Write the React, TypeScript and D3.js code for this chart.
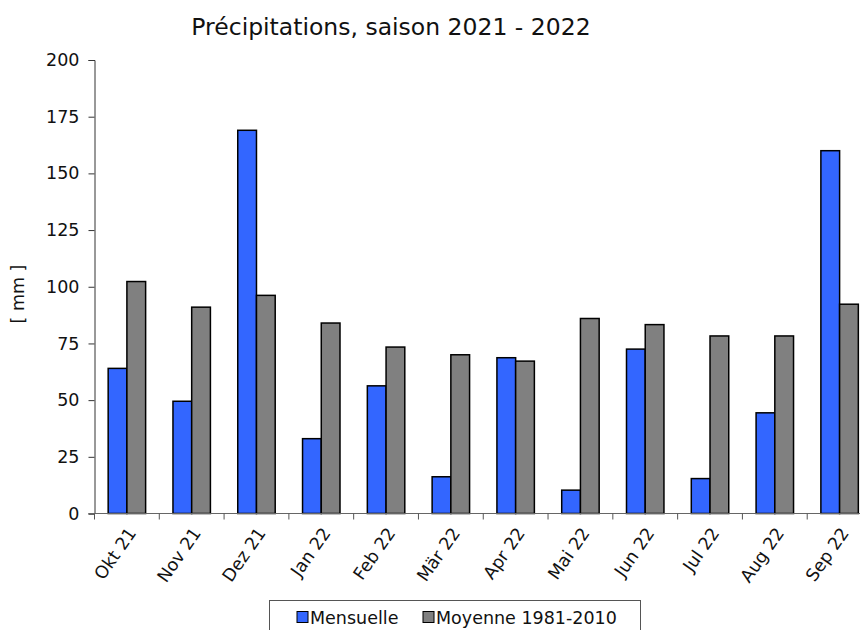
import { useEffect, useRef } from 'react'
import * as d3 from 'd3'

const months = ['Okt 21', 'Nov 21', 'Dez 21', 'Jan 22', 'Feb 22', 'Mär 22', 'Apr 22', 'Mai 22', 'Jun 22', 'Jul 22', 'Aug 22', 'Sep 22']
const monthly = [64, 49.5, 169, 33, 56.3, 16.2, 68.7, 10.3, 72.5, 15.4, 44.4, 160]
const normals = [102.3, 91, 96.2, 84, 73.4, 70, 67.2, 86, 83.3, 78.3, 78.3, 92.3]
const yTicks = [0, 25, 50, 75, 100, 125, 150, 175, 200]
const seriesNames = ['Mensuelle', 'Moyenne 1981-2010']
const seriesColors = ['#3366ff', '#808080']

const FONT = '"DejaVu Sans", Verdana, sans-serif'

export default function App() {
  const svgRef = useRef<SVGSVGElement>(null)

  useEffect(() => {
    if (!svgRef.current) return
    const svg = d3.select(svgRef.current)
    svg.selectAll('*').remove()

    const left = 94.5
    const right = 872
    const top = 60
    const bottom = 513.5

    const x = d3.scaleBand().domain(months).range([left, right]).paddingInner(0).paddingOuter(0)
    // two bars per month, about 18.7px each, centred in the month slot
    const inner = d3.scaleBand().domain(['0', '1']).range([0, x.bandwidth()]).paddingInner(0).paddingOuter(0.73)
    const y = d3.scaleLinear().domain([0, 200]).range([bottom, top])

    // title
    svg.append('text')
      .attr('x', 391)
      .attr('y', 35)
      .attr('text-anchor', 'middle')
      .attr('font-family', FONT)
      .attr('font-size', 23.5)
      .attr('fill', '#111')
      .text('Précipitations, saison 2021 - 2022')

    // y axis
    const yAxis = svg.append('g')
      .attr('transform', `translate(${left},0)`)
      .call(d3.axisLeft(y).tickValues(yTicks).tickSize(6).tickPadding(9))
    yAxis.select('.domain').attr('stroke', '#333')
    yAxis.selectAll('.tick line').attr('stroke', '#333')
    yAxis.selectAll('text')
      .attr('font-family', FONT)
      .attr('font-size', 17.5)
      .attr('fill', '#111')

    svg.append('text')
      .attr('transform', 'translate(24,294) rotate(-90)')
      .attr('text-anchor', 'middle')
      .attr('font-family', FONT)
      .attr('font-size', 17.5)
      .attr('fill', '#111')
      .text('[ mm ]')

    // bars
    const series = [monthly, normals]
    series.forEach((vals, si) => {
      svg.append('g')
        .selectAll('rect')
        .data(vals)
        .join('rect')
        .attr('x', (_, i) => x(months[i])! + inner(String(si))!)
        .attr('y', d => y(d))
        .attr('width', inner.bandwidth())
        .attr('height', d => bottom - y(d))
        .attr('fill', seriesColors[si])
        .attr('stroke', '#000')
        .attr('stroke-width', 1.5)
    })

    // x axis
    svg.append('line')
      .attr('x1', left - 6).attr('x2', right)
      .attr('y1', bottom).attr('y2', bottom)
      .attr('stroke', '#666')
    svg.append('g')
      .selectAll('line')
      .data(months)
      .join('line')
      .attr('x1', d => x(d)!).attr('x2', d => x(d)!)
      .attr('y1', bottom).attr('y2', bottom + 6)
      .attr('stroke', '#555')

    svg.append('g')
      .selectAll('text')
      .data(months)
      .join('text')
      .attr('transform', d => `translate(${x(d)! + x.bandwidth() / 2 + 5},${bottom + 16}) rotate(-55)`)
      .attr('text-anchor', 'end')
      .attr('dy', '0.35em')
      .attr('font-family', FONT)
      .attr('font-size', 17.5)
      .attr('fill', '#111')
      .text(d => d)

    // legend
    const legend = svg.append('g')
    legend.append('rect')
      .attr('x', 269.5).attr('y', 600.5)
      .attr('width', 371).attr('height', 40)
      .attr('fill', '#fff')
      .attr('stroke', '#555')
    const legendX = [297, 423]
    seriesNames.forEach((name, i) => {
      legend.append('rect')
        .attr('x', legendX[i]).attr('y', 611.5)
        .attr('width', 11).attr('height', 11)
        .attr('fill', seriesColors[i])
        .attr('stroke', '#000')
      legend.append('text')
        .attr('x', legendX[i] + 13)
        .attr('y', 623.5)
        .attr('font-family', FONT)
        .attr('font-size', 17.5)
        .attr('fill', '#111')
        .text(name)
    })
  }, [])

  return (
    <div style={{ position: 'absolute', left: 0, top: 0, width: 860, height: 630, background: '#fff' }}>
      <svg ref={svgRef} width={860} height={630} />
    </div>
  )
}
